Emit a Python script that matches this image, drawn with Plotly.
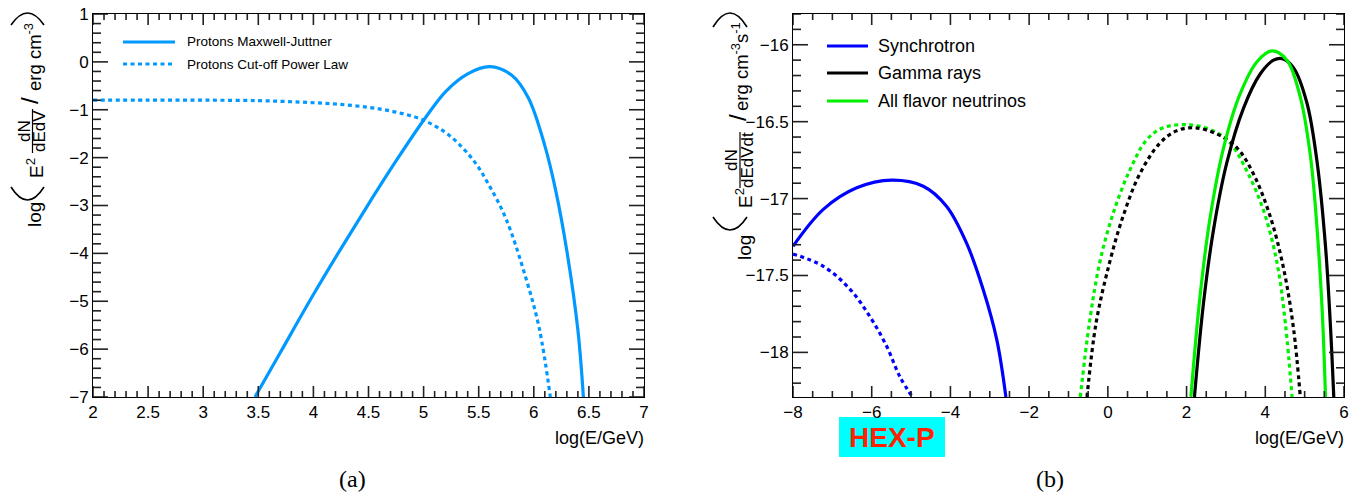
import plotly.graph_objects as go

W, H = 1362, 500

# ---------------- data (panel a) ----------------
mj_x = [3.47, 3.7, 4.0, 4.25, 4.5, 4.75, 5.0, 5.2, 5.4, 5.6, 5.8, 5.95, 6.1, 6.2, 6.3, 6.4, 6.45]
mj_y = [-7.0, -6.07, -4.86, -3.9, -2.97, -2.07, -1.22, -0.62, -0.25, -0.10, -0.28, -0.75, -1.75, -2.7, -3.95, -5.6, -7.0]
cpl_x = [2.0, 2.5, 3.0, 3.5, 3.88, 4.2, 4.5, 4.75, 5.0, 5.23, 5.45, 5.6, 5.75, 5.93, 6.05, 6.15]
cpl_y = [-0.80, -0.80, -0.80, -0.81, -0.84, -0.88, -0.95, -1.05, -1.22, -1.53, -2.05, -2.6, -3.29, -4.53, -5.57, -7.0]

# ---------------- data (panel b) ----------------
syn_x = [-8.0, -7.23, -6.38, -5.49, -4.69, -4.10, -3.59, -3.17, -2.82, -2.59]
syn_y = [-17.31, -17.07, -16.93, -16.88, -16.92, -17.05, -17.29, -17.59, -17.92, -18.29]
syn_d_x = [-8.0, -7.23, -6.55, -6.04, -5.62, -5.28, -4.94]
syn_d_y = [-17.36, -17.44, -17.59, -17.77, -17.96, -18.16, -18.30]

nu_x = [2.11, 2.34, 2.60, 2.94, 3.36, 3.79, 4.17, 4.55, 4.89, 5.15, 5.32, 5.45, 5.53]
nu_y = [-18.29, -17.64, -17.12, -16.67, -16.32, -16.11, -16.04, -16.10, -16.34, -16.73, -17.21, -17.75, -18.29]
gam_x = [2.20, 2.43, 2.68, 3.02, 3.45, 3.87, 4.21, 4.43, 4.72, 5.06, 5.32, 5.53, 5.66, 5.74]
gam_y = [-18.29, -17.68, -17.21, -16.77, -16.41, -16.19, -16.10, -16.09, -16.15, -16.38, -16.77, -17.31, -17.85, -18.29]

nu_d_x = [-0.70, -0.47, -0.21, 0.13, 0.55, 0.98, 1.40, 2.09, 2.68, 3.11, 3.53, 3.96, 4.30, 4.51, 4.68]
nu_d_y = [-18.29, -17.81, -17.42, -17.10, -16.82, -16.62, -16.54, -16.52, -16.56, -16.64, -16.82, -17.08, -17.42, -17.81, -18.29]
gam_d_x = [-0.53, -0.30, 0.04, 0.38, 0.81, 1.32, 1.74, 2.21, 2.77, 3.28, 3.70, 4.13, 4.47, 4.72, 4.89]
gam_d_y = [-18.29, -17.81, -17.42, -17.12, -16.84, -16.64, -16.56, -16.54, -16.58, -16.67, -16.84, -17.12, -17.46, -17.85, -18.29]

legend_a = ["Protons Maxwell-Juttner", "Protons Cut-off Power Law"]
legend_b = ["Synchrotron", "Gamma rays", "All flavor neutrinos"]

# tick values (major) and minor subdivisions
ticks_a_x = [2, 2.5, 3, 3.5, 4, 4.5, 5, 5.5, 6, 6.5, 7]
ticks_a_y = [-7, -6, -5, -4, -3, -2, -1, 0, 1]
ticks_b_x = [-8, -6, -4, -2, 0, 2, 4, 6]
ticks_b_y = [-18, -17.5, -17, -16.5, -16]
range_a_x, range_a_y = [2, 7], [-7, 1]
range_b_x, range_b_y = [-8, 6], [-18.29, -15.80]

C_A = "#0099ff"
C_BLUE = "#0000ff"
C_BLACK = "#000000"
C_GREEN = "#00f000"
DOT = "4px,3.5px"
LW = 3.2
FONT = "Liberation Sans, Arial, sans-serif"
TC = "#222222"
TW = 1.6


def px(x):
    return x / W


def py(y):
    return 1 - y / H


fig = go.Figure()


def add(x, y, color, dash, name, xa, ya):
    fig.add_trace(go.Scatter(
        x=x, y=y, mode="lines", name=name, showlegend=False,
        line=dict(color=color, width=LW, dash=dash, shape="spline", smoothing=1.0),
        xaxis=xa, yaxis=ya))


add(mj_x, mj_y, C_A, "solid", legend_a[0], "x", "y")
add(cpl_x, cpl_y, C_A, DOT, legend_a[1], "x", "y")
add(syn_x, syn_y, C_BLUE, "solid", legend_b[0], "x2", "y2")
add(syn_d_x, syn_d_y, C_BLUE, DOT, legend_b[0], "x2", "y2")
add(nu_d_x, nu_d_y, C_GREEN, DOT, legend_b[2], "x2", "y2")
add(gam_d_x, gam_d_y, C_BLACK, DOT, legend_b[1], "x2", "y2")
add(gam_x, gam_y, C_BLACK, "solid", legend_b[1], "x2", "y2")
add(nu_x, nu_y, C_GREEN, "solid", legend_b[2], "x2", "y2")

TICKFONT = dict(family=FONT, size=17, color="black")


def axis(domain, rng, tickvals, anchor):
    return dict(domain=domain, range=rng, tickmode="array", tickvals=tickvals,
                showgrid=False, zeroline=False, showline=True, linecolor="black", linewidth=1,
                mirror=True, ticks="", tickfont=TICKFONT, anchor=anchor, automargin=False)


FL, FR_A, FL_B, FR_B, FT, FB = 93, 644, 793, 1344, 14, 397
ydom = [py(FB), py(FT)]
fig.update_layout(
    template="none",
    width=W, height=H, margin=dict(l=0, r=0, t=0, b=0, pad=0, autoexpand=False),
    xaxis=axis([px(FL), px(FR_A)], range_a_x, ticks_a_x, "y"),
    yaxis=axis(ydom, range_a_y, ticks_a_y, "x"),
    xaxis2=axis([px(FL_B), px(FR_B)], range_b_x, ticks_b_x, "y2"),
    yaxis2=axis(ydom, range_b_y, ticks_b_y, "x2"),
    showlegend=False,
)

ann = []
shapes = []


def subdivide(major, n, rng):
    step = (major[1] - major[0]) / n
    lo, hi = min(rng), max(rng)
    out = []
    k = -n
    while True:
        v = round(major[0] + k * step, 6)
        if v > hi:
            break
        if v >= lo and all(abs(v - m) > 1e-9 for m in major):
            out.append(v)
        k += 1
    return out


def xticks(xref, vals, length):
    for v in vals:
        for base, sgn in ((FB, -1), (FT, 1)):
            shapes.append(dict(type="line", xref=xref, yref="paper", x0=v, x1=v,
                               y0=py(base), y1=py(base + sgn * length), line=dict(color=TC, width=TW)))


def yticks(yref, vals, left, right, length):
    for v in vals:
        for base, sgn in ((left, 1), (right, -1)):
            shapes.append(dict(type="line", xref="paper", yref=yref, y0=v, y1=v,
                               x0=px(base), x1=px(base + sgn * length), line=dict(color=TC, width=TW)))


xticks("x", ticks_a_x, 11)
xticks("x", subdivide(ticks_a_x, 5, range_a_x), 6)
yticks("y", ticks_a_y, FL, FR_A, 15)
yticks("y", subdivide(ticks_a_y, 5, range_a_y), FL, FR_A, 8)
xticks("x2", ticks_b_x, 11)
xticks("x2", subdivide(ticks_b_x, 4, range_b_x), 6)
yticks("y2", ticks_b_y, FL_B, FR_B, 15)
yticks("y2", subdivide(ticks_b_y, 5, range_b_y), FL_B, FR_B, 8)


def text(x, y, t, size, xanchor="center", yanchor="middle", angle=0, color="black", family=FONT, bold=False):
    d = dict(x=px(x), y=py(y), xref="paper", yref="paper", text=("<b>%s</b>" % t) if bold else t,
             showarrow=False, xanchor=xanchor, yanchor=yanchor, textangle=angle, borderpad=0,
             font=dict(family=family, size=size, color=color))
    ann.append(d)


def seg(x0, y0, x1, y1, color="black", width=1, dash="solid"):
    shapes.append(dict(type="line", xref="paper", yref="paper", x0=px(x0), y0=py(y0), x1=px(x1), y1=py(y1),
                       line=dict(color=color, width=width, dash=dash)))


def arc(xa, xb, y_end, y_apex):
    xm = (xa + xb) / 2
    cy = 2 * y_apex - y_end
    path = "M %f,%f Q %f,%f %f,%f" % (px(xa), py(y_end), px(xm), py(cy), px(xb), py(y_end))
    shapes.append(dict(type="path", xref="paper", yref="paper", path=path, line=dict(color="black", width=1.6)))


# legends
seg(123, 42, 175, 42, C_A, LW)
seg(123, 64, 175, 64, C_A, LW, DOT)
text(186, 42, legend_a[0], 13.5, xanchor="left")
text(186, 64, legend_a[1], 13.5, xanchor="left")
for yy, c, lab in zip([46, 73, 101], [C_BLUE, C_BLACK, C_GREEN], legend_b):
    seg(827, yy, 868, yy, c, LW)
    text(877, yy, lab, 18, xanchor="left")

# x axis titles
text(645, 438, "log(E/GeV)", 18, xanchor="right")
text(1345, 438, "log(E/GeV)", 18, xanchor="right")

# y axis titles (built from pieces, rotated); t = baseline correction for rotated text
t = -1


def ytitle(p, fracden, unit):
    text(p["log"][0] + t, p["log"][1], "log", 19, angle=-90)
    arc(p["xa"], p["xb"], p["open"][0], p["open"][1])
    text(p["E"][0] + t, p["E"][1], "E<sup>2</sup>", 19, angle=-90)
    text(p["num"][0] + t, p["num"][1], "dN", 17, angle=-90)
    text(p["den"][0] + t, p["den"][1], fracden, 17, angle=-90)
    seg(p["bar"][0], p["bar"][1], p["bar"][0], p["bar"][2], "black", 1.2)
    text(p["slash"][0] + t, p["slash"][1], "/", 24, angle=-90)
    text(p["unit"][0] + t, p["unit"][1], unit, 18.5, angle=-90)
    arc(p["xa"], p["xb"], p["close"][0], p["close"][1])


ytitle(dict(log=(36, 215), xa=11, xb=44, open=(187, 200), E=(36, 168), num=(25, 131), den=(40, 131),
            bar=(32.5, 109, 153), slash=(31, 101), unit=(34, 57), close=(25, 13)),
       "dEdV", "erg cm<sup>-3</sup>")
ytitle(dict(log=(745, 248), xa=713, xb=747, open=(217, 230), E=(745, 198), num=(732, 160), den=(748, 160),
            bar=(740, 132, 188), slash=(738, 118), unit=(741, 67), close=(27, 13)),
       "dEdVdt", "erg cm<sup>-3</sup>s<sup>-1</sup>")

# HEX-P label (cyan box)
shapes.append(dict(type="rect", xref="paper", yref="paper", x0=px(839), x1=px(945), y0=py(457), y1=py(417),
                   fillcolor="#00ffff", line=dict(width=0), layer="below"))
text(892, 437, "HEX-P", 28, color="#ff2200", bold=True)

# captions
text(352, 479, "(a)", 24, family="Liberation Serif, DejaVu Serif, serif")
text(1050, 479, "(b)", 24, family="Liberation Serif, DejaVu Serif, serif")

fig.update_layout(annotations=ann, shapes=shapes)
fig.write_html("out.html")
